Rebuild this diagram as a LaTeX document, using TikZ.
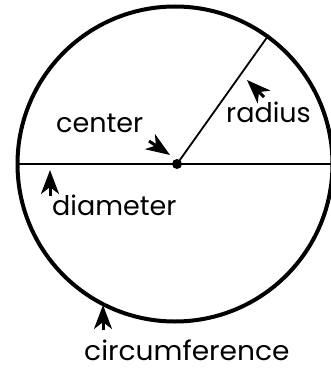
\documentclass[tikz,border=0pt]{standalone}
\usepackage{fontspec}
\setmainfont{Poppins}
\usetikzlibrary{arrows.meta,positioning}

\begin{document}
\begin{tikzpicture}[x=1pt,y=-1pt,
  lbl/.style={inner sep=0pt,anchor=base west,font=\fontsize{27}{27}\selectfont},
  pointer/.style={-{Stealth[length=24pt,width=18pt,inset=7pt]},line width=3pt}]
  \useasboundingbox (0,0) rectangle (330,369);
  %% circle and its lines
  \node[draw,circle,line width=4pt,minimum size=315pt,inner sep=0pt] (rim) at (175,164) {};
  \node[fill,circle,minimum size=10pt,inner sep=0pt] (ctr) at (177,164) {};
  \draw[line width=2.2pt] (rim.west) -- (rim.east);
  \draw[line width=1.8pt] (ctr.center) -- (rim.54);
  %% labels
  \node[lbl] (lcenter) at (56,132) {center};
  \node[lbl] (lradius) at (226,122) {radius};
  \node[lbl] (ldiam) at (52,215) {diameter};
  \node[lbl,xscale=1.04] (lcirc) at (84,360) {circumference};
  %% pointers
  \coordinate (pc1) at (149,141); \coordinate (pc2) at (170,155);
  \coordinate (pr1) at (264,97);  \coordinate (pr2) at (247,80);
  \coordinate (pd1) at (50,196);  \coordinate (pd2) at (50,170);
  \coordinate (pf1) at (103,330); \coordinate (pf2) at (103,305);
  \draw[pointer] (pc1) -- (pc2);
  \draw[pointer] (pr1) -- (pr2);
  \draw[pointer] (pd1) -- (pd2);
  \draw[pointer] (pf1) -- (pf2);
\end{tikzpicture}
\end{document}
